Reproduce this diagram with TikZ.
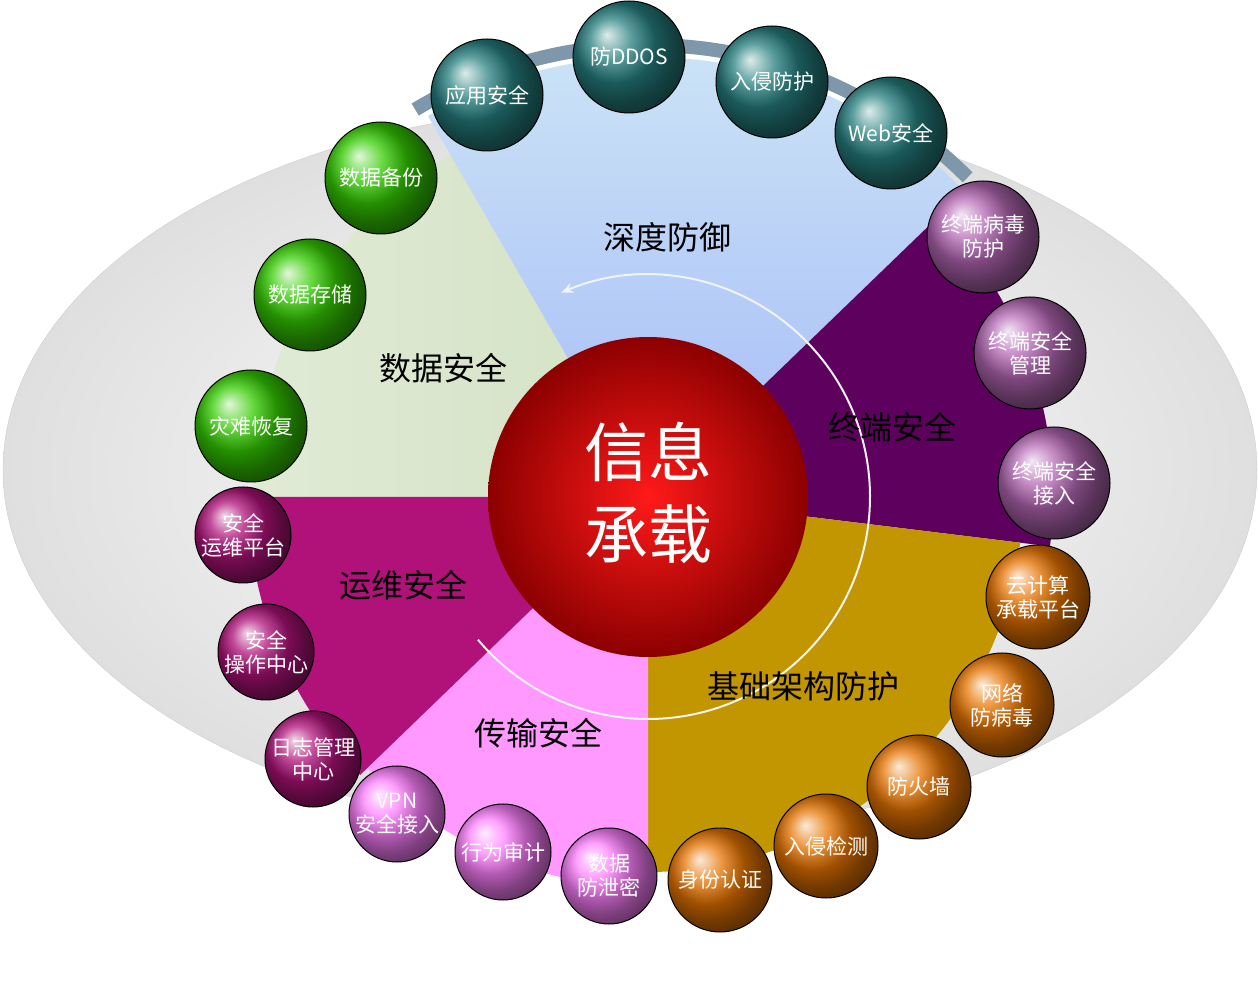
\documentclass[tikz,border=0pt]{standalone}
\usepackage{fontspec}
\newfontfamily\cjk{Noto Sans CJK SC}
\usetikzlibrary{arrows.meta}
\definecolor{skyb}{HTML}{C2E0F4}
\definecolor{sage}{HTML}{D3E2C4}
\definecolor{plum}{HTML}{5E005E}
\definecolor{goldc}{HTML}{C29600}
\definecolor{pinkc}{HTML}{FF99FF}
\definecolor{magc}{HTML}{B0127A}
\definecolor{ringc}{HTML}{7F97AA}
\tikzset{
 ball/.style={circle,draw=black,line width=1pt,minimum size=112pt,inner sep=0pt,align=center,text=white,font=\cjk\fontsize{21}{24}\selectfont,ball color=#1},
 seclab/.style={font=\cjk\fontsize{32}{36}\selectfont,text=black},
}
\begin{document}
\begin{tikzpicture}[x=1pt,y=1pt]
\useasboundingbox (0,0) rectangle (1258,983);
\shade[inner color=white,outer color=gray!25,draw=gray!40] (630,513) ellipse[x radius=627,y radius=365];
\coordinate (c) at (648,486);
\shade[left color=sage!70!white,right color=sage] (c) -- ++(120:395) arc[start angle=120,end angle=180,radius=395] -- cycle;
\shade[top color=skyb!80!white,bottom color=skyb!80!blue!90] (c) -- ++(44:440) arc[start angle=44,end angle=120,radius=440] -- cycle;
\fill[plum] (c) -- ++(-7:405) arc[start angle=-7,end angle=44,radius=405] -- cycle;
\fill[goldc] (c) -- ++(-90:375) arc[start angle=-90,end angle=-7,radius=375] -- cycle;
\fill[pinkc] (c) -- ++(-136:390) arc[start angle=-136,end angle=-90,radius=390] -- cycle;
\fill[magc] (c) -- ++(180:400) arc[start angle=180,end angle=224,radius=400] -- cycle;
\draw[ringc,line width=14pt] ([shift={(45:452)}]c) arc[start angle=45,end angle=121,radius=452];
\shade[inner color=red!90!white,outer color=red!55!black] (c) circle[radius=160];
\node[font=\cjk\fontsize{64}{82}\selectfont,text=white,align=center] (core) at (648,490) {信息\\承载};
\draw[white!90!gray,line width=2pt,-{Stealth[length=12pt,width=10pt]}] ([shift={(-140:222)}]c) arc[start angle=-140,end angle=113,radius=222];
\node[seclab] (s1) at (667,746) {深度防御};
\node[seclab] (s2) at (443,615) {数据安全};
\node[seclab] (s3) at (892,556) {终端安全};
\node[seclab] (s4) at (803,297) {基础架构防护};
\node[seclab] (s5) at (538,250) {传输安全};
\node[seclab] (s6) at (403,398) {运维安全};
% teal
\node[ball=teal!70!gray] (b1) at (487,888) {应用安全};
\node[ball=teal!70!gray] (b2) at (629,926) {防DDOS};
\node[ball=teal!70!gray] (b3) at (772,901) {入侵防护};
\node[ball=teal!70!gray] (b4) at (891,850) {Web安全};
% violet
\node[ball=violet!60!white] (b5) at (983,746) {终端病毒\\防护};
\node[ball=violet!60!white] (b6) at (1030,630) {终端安全\\管理};
\node[ball=violet!60!white] (b7) at (1054,500) {终端安全\\接入};
% orange
\node[ball=orange!90!black,minimum size=104pt] (b8) at (1038,386) {云计算\\承载平台};
\node[ball=orange!90!black,minimum size=104pt] (b9) at (1002,278) {网络\\防病毒};
\node[ball=orange!90!black,minimum size=104pt] (b10) at (919,196) {防火墙};
\node[ball=orange!90!black,minimum size=104pt] (b11) at (826,137) {入侵检测};
\node[ball=orange!90!black,minimum size=104pt] (b12) at (720,103) {身份认证};
% orchid
\node[ball=magenta!50!white,minimum size=96pt] (b13) at (609,107) {数据\\防泄密};
\node[ball=magenta!50!white,minimum size=96pt] (b14) at (503,131) {行为审计};
\node[ball=magenta!50!white,minimum size=96pt] (b15) at (397,169) {VPN\\安全接入};
% magenta
\node[ball=magc,minimum size=96pt] (b16) at (313,224) {日志管理\\中心};
\node[ball=magc,minimum size=96pt] (b17) at (266,331) {安全\\操作中心};
\node[ball=magc,minimum size=96pt] (b18) at (243,448) {安全\\运维平台};
% green
\node[ball=green!60!olive] (b19) at (251,557) {灾难恢复};
\node[ball=green!60!olive] (b20) at (310,688) {数据存储};
\node[ball=green!60!olive] (b21) at (381,805) {数据备份};
\end{tikzpicture}
\end{document}
